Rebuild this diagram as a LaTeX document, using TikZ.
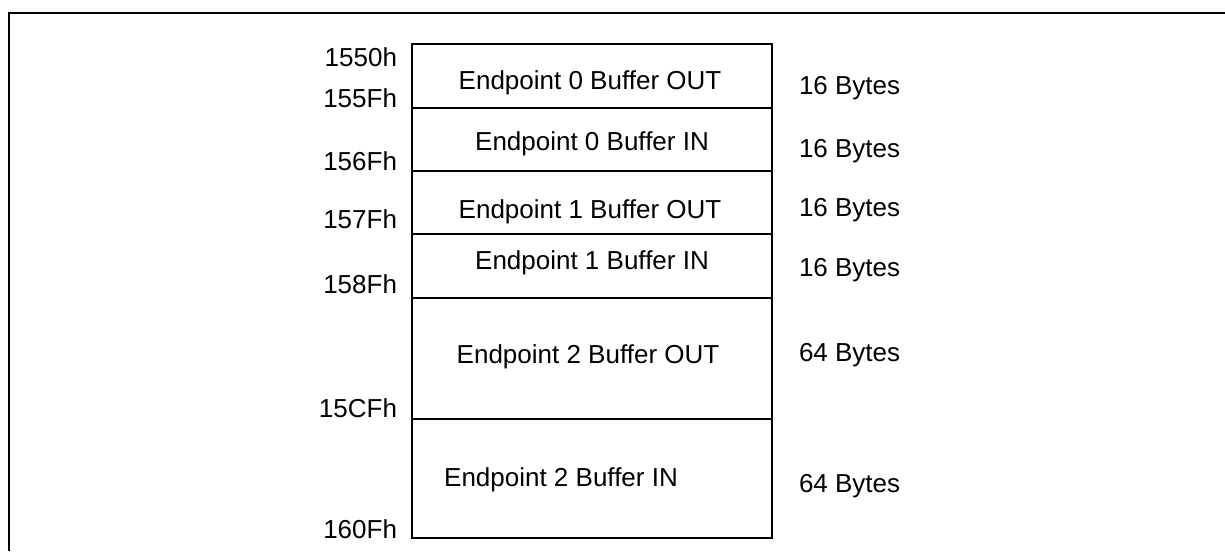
\documentclass[tikz,border=0pt]{standalone}
\usepackage{fontspec}
\setmainfont{Liberation Sans}
\usepackage{tikz}
\usetikzlibrary{positioning}

\tikzset{
    txt/.style={font=\fontsize{13}{15}\selectfont, inner sep=0pt},
    addr/.style={txt, anchor=base east},
    size/.style={txt, anchor=base west},
    buf/.style={txt, anchor=base}
}

\begin{document}
\begin{tikzpicture}[x=0.5pt, y=-0.5pt, line width=1pt]
\useasboundingbox (0,0) rectangle (1225,551);

% Frame
\draw (9,551)--(9,13)--(1225,13);

% Buffer block
\draw (412,44) rectangle (772,538);
\draw (412,108)--(772,108);
\draw (412,171)--(772,171);
\draw (412,234)--(772,234);
\draw[line width=1.3pt] (412,298)--(772,298);
\draw (412,419)--(772,419);

% Buffer names
\node[buf] (ep0out) at (590,90) {Endpoint 0 Buffer OUT};
\node[buf] (ep0in) at (592,150) {Endpoint 0 Buffer IN};
\node[buf] (ep1out) at (590,218) {Endpoint 1 Buffer OUT};
\node[buf] (ep1in) at (592,269) {Endpoint 1 Buffer IN};
\node[buf] (ep2out) at (588,363) {Endpoint 2 Buffer OUT};
\node[buf] (ep2in) at (561,486) {Endpoint 2 Buffer IN};

% Addresses
\node[addr] (a1550) at (398,67) {1550h};
\node[addr] (a155f) at (398,107) {155Fh};
\node[addr] (a156f) at (398,170) {156Fh};
\node[addr] (a157f) at (398,228) {157Fh};
\node[addr] (a158f) at (398,293) {158Fh};
\node[addr] (a15cf) at (398,417) {15CFh};
\node[addr] (a160f) at (398,538) {160Fh};

% Sizes
\node[size] (s0out) at (798,95) {16 Bytes};
\node[size] (s0in) at (798,157) {16 Bytes};
\node[size] (s1out) at (798,216) {16 Bytes};
\node[size] (s1in) at (798,276) {16 Bytes};
\node[size] (s2out) at (798,361) {64 Bytes};
\node[size] (s2in) at (798,492) {64 Bytes};

\end{tikzpicture}
\end{document}
